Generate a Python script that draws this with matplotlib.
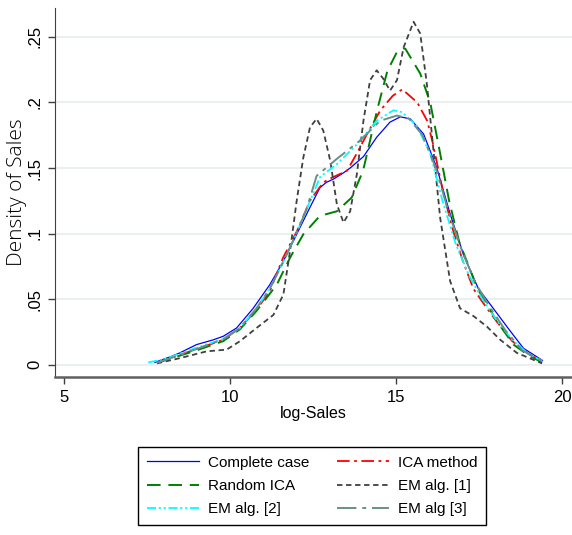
import matplotlib
matplotlib.use("Agg")
import matplotlib.pyplot as plt

# kernel density curves
cc_x = [7.74, 8.2, 8.49, 8.99, 9.5, 9.8, 10.2, 10.7, 11.2, 11.61, 12.01, 12.41, 12.71, 12.9, 13.12, 13.4,
        13.62, 14.02, 14.42, 14.82, 15.13, 15.43, 15.83, 16.23, 16.63, 17.03, 17.48, 17.84, 18.4, 18.84, 19.41]
cc_y = [.0018, .006, .009, .0153, .019, .0217, .028, .043, .061, .079, .0995, .120, .135, .139, .1416, .146,
        .150, .1587, .1735, .185, .189, .1875, .176, .150, .115, .084, .058, .046, .027, .0125, .0033]

ica_x = [7.8, 8.5, 9.0, 9.8, 10.3, 10.8, 11.2, 11.6, 12.02, 12.41, 12.81, 13.02, 13.53, 13.86, 14.13, 14.53,
         14.9, 15.19, 15.64, 15.94, 16.1, 16.39, 16.7, 17.0, 17.33, 17.6, 18.0, 18.5, 19.0, 19.4]
ica_y = [.0015, .0075, .012, .019, .028, .042, .056, .0816, .102, .125, .139, .142, .148, .163, .176, .194,
         .205, .210, .200, .186, .170, .135, .104, .080, .058, .048, .034, .018, .008, .0025]

rica_x = [7.8, 8.5, 9.0, 9.8, 10.3, 10.8, 11.41, 11.81, 12.21, 12.71, 13.22, 13.67, 14.01, 14.43, 14.74,
          15.03, 15.22, 15.28, 15.73, 16.03, 16.3, 16.6, 16.9, 17.44, 18.04, 18.54, 19.0, 19.4]
rica_y = [.0015, .007, .011, .018, .027, .041, .061, .0816, .0995, .1135, .117, .1276, .148, .194, .224,
          .2385, .241, .241, .222, .200, .165, .125, .094, .0587, .033, .0153, .007, .0018]

em1_x = [7.8, 8.49, 9.30, 9.90, 10.3, 10.80, 11.31, 11.61, 11.81, 12.01, 12.21, 12.41, 12.61, 12.81, 13.02,
         13.22, 13.42, 13.62, 13.82, 14.02, 14.22, 14.42, 14.62, 14.82, 15.03, 15.23, 15.53, 15.73, 15.93,
         16.13, 16.33, 16.63, 16.93, 17.34, 17.74, 18.14, 18.64, 19.4]
em1_y = [.001, .005, .0102, .0115, .0179, .028, .038, .0536, .0867, .125, .158, .181, .1875, .1786, .1556,
         .1224, .1084, .117, .145, .186, .217, .2245, .218, .209, .217, .242, .2615, .2526, .214,
         .163, .112, .0638, .043, .037, .029, .019, .009, .001]

em2_x = [7.54, 8.0, 8.5, 9.0, 9.8, 10.3, 10.8, 11.2, 11.6, 12.0, 12.4, 12.71, 13.22, 13.82, 14.42, 14.92,
         15.18, 15.63, 16.03, 16.4, 16.8, 17.2, 17.6, 18.0, 18.5, 19.0, 19.4]
em2_y = [.0018, .004, .0085, .013, .0195, .028, .043, .058, .078, .100, .124, .143, .153, .168, .186, .194,
         .1926, .182, .161, .125, .092, .068, .050, .035, .019, .008, .003]

em3_x = [7.8, 8.5, 9.0, 9.8, 10.3, 10.8, 11.2, 11.6, 12.0, 12.3, 12.61, 13.22, 13.92, 14.52, 15.03, 15.4,
         15.8, 16.2, 16.6, 17.0, 17.4, 17.8, 18.3, 18.8, 19.4]
em3_y = [.0015, .0075, .012, .0195, .028, .043, .058, .078, .100, .118, .144, .157, .171, .186, .190, .1875,
         .175, .150, .115, .086, .062, .045, .026, .011, .003]

x_ticks = [5, 10, 15, 20]
y_ticks = [0, .05, .1, .15, .2, .25]
y_tick_labels = ["0", ".05", ".1", ".15", ".2", ".25"]

sans = ["Liberation Sans", "DejaVu Sans"]

fig = plt.figure(figsize=(5.72, 5.35), dpi=100)
ax = fig.add_axes([0.096, 0.295, 0.904, 0.69])

for yt in y_ticks:
    ax.axhline(yt, color="#eaf0f2", lw=1.5, zorder=0)

ax.plot(cc_x, cc_y, color="blue", lw=0.9, label="Complete case")
ax.plot(ica_x, ica_y, color="red", lw=1.3, dashes=(7, 2.5, 1.5, 2.5), label="ICA method")
ax.plot(rica_x, rica_y, color="green", lw=1.4, dashes=(7, 4), label="Random ICA")
ax.plot(em1_x, em1_y, color="#404040", lw=1.3, dashes=(3, 2), label="EM alg. [1]")
ax.plot(em2_x, em2_y, color="cyan", lw=1.3, dashes=(5, 1.5, 1.2, 1.5, 1.2, 1.5), label="EM alg. [2]")
ax.plot(em3_x, em3_y, color="#6a8f86", lw=1.4, dashes=(10, 3, 2, 3), label="EM alg [3]")

ax.set_xlim(4.73, 20.3)
ax.set_ylim(-0.0095, 0.272)
ax.set_xticks(x_ticks)
ax.set_xticklabels([str(t) for t in x_ticks], family=sans, fontsize=12)
ax.set_yticks(y_ticks)
ax.set_yticklabels(y_tick_labels, family=sans, fontsize=12, rotation=90, va="center")
ax.tick_params(length=5, width=1, color="#404040", pad=4)
ax.set_xlabel("log-Sales", family=sans, fontsize=11.5, labelpad=1)
ax.set_ylabel("Density of Sales", family=["Open Sans", "DejaVu Sans"], fontweight="light",
              fontsize=15, color="black", labelpad=0)

for s in ["top", "right"]:
    ax.spines[s].set_visible(False)
ax.spines["left"].set_color("#404040")
ax.spines["bottom"].set_color("#606060")
ax.spines["bottom"].set_linewidth(1.8)

handles, labels = ax.get_legend_handles_labels()
order = [0, 2, 4, 1, 3, 5]
leg = fig.legend([handles[i] for i in order], [labels[i] for i in order], ncol=2,
                 loc="lower center", bbox_to_anchor=(0.5455, 0.004), fancybox=False,
                 edgecolor="black", framealpha=1, prop={"family": sans, "size": 11},
                 handlelength=3.4, handletextpad=0.6, columnspacing=1.8, labelspacing=0.6,
                 borderpad=0.6)
leg.get_frame().set_linewidth(1)

fig.savefig("out.png", dpi=100)
